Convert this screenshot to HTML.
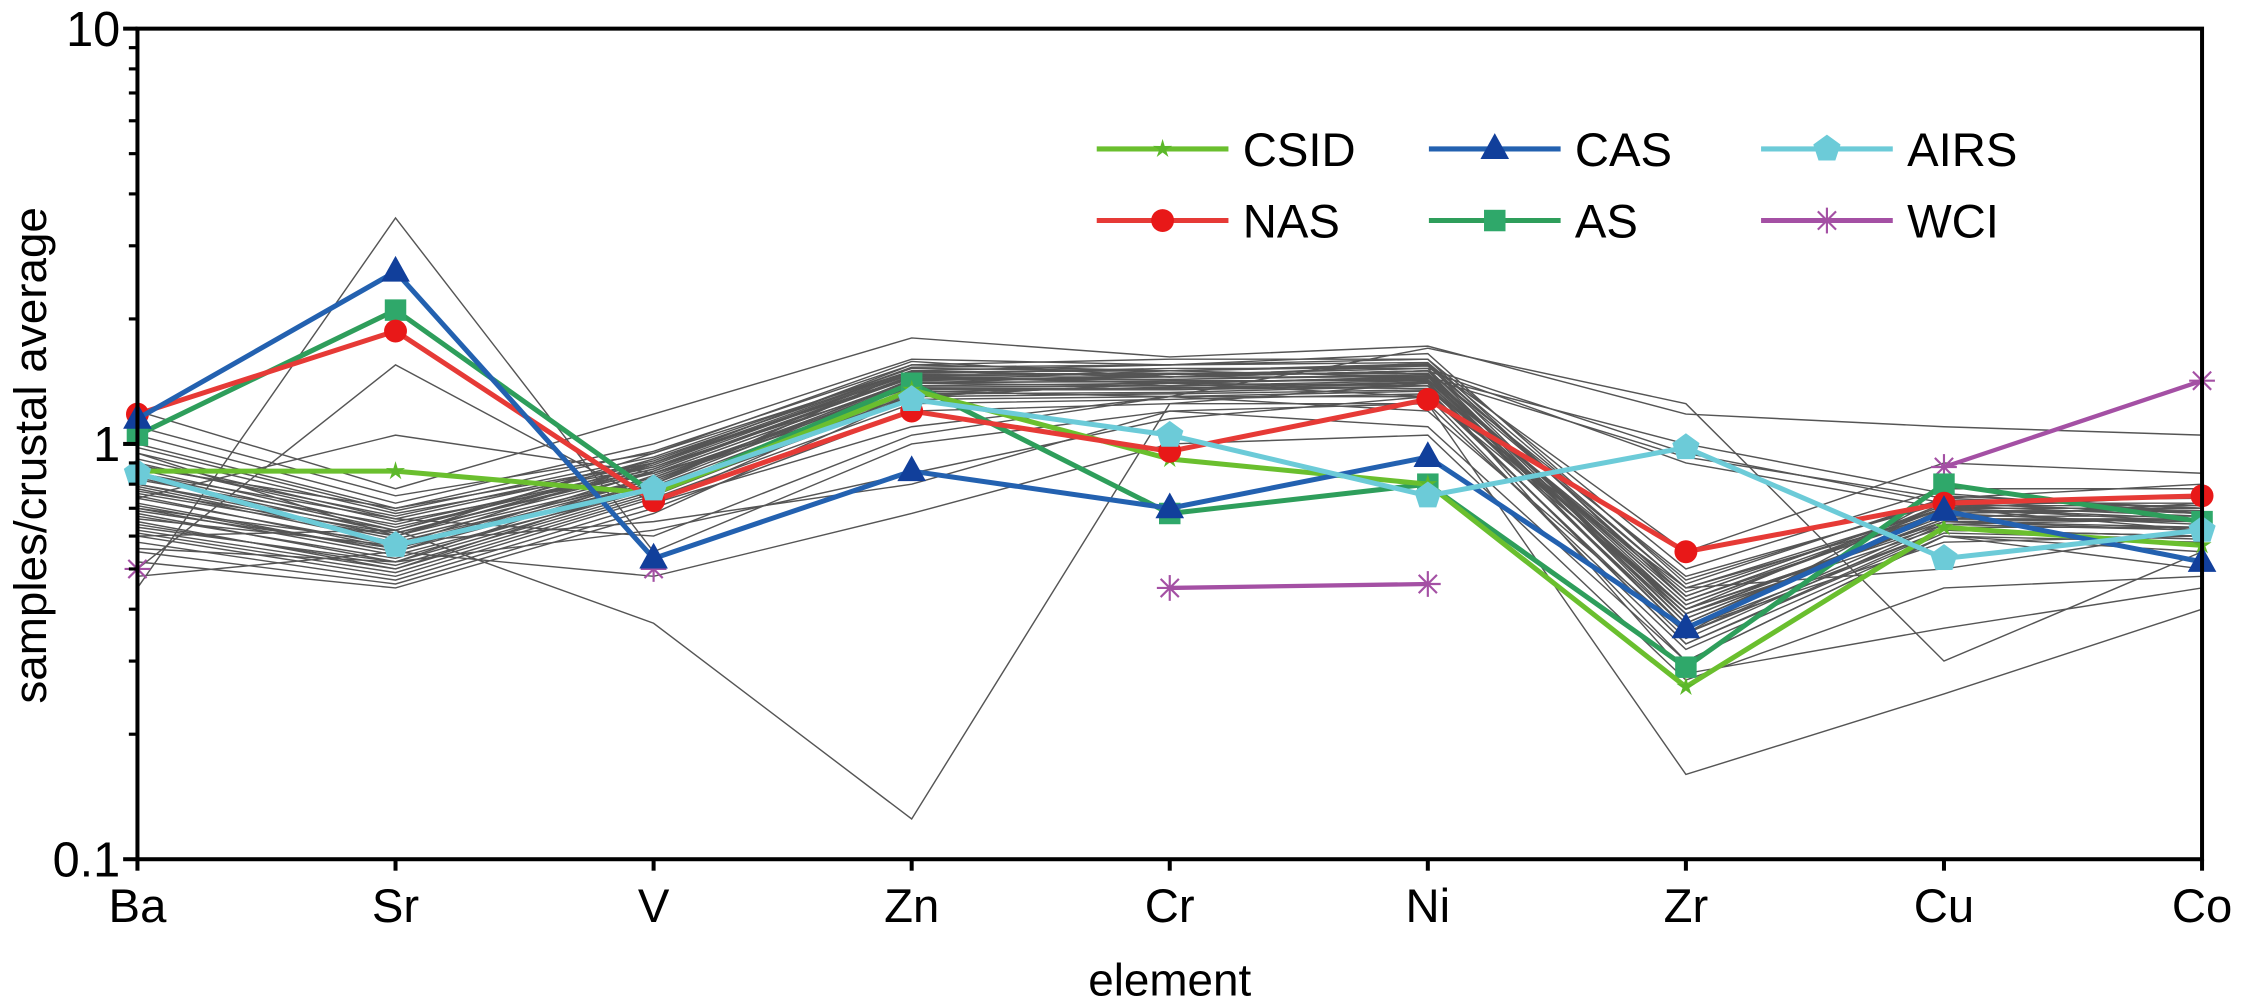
<!DOCTYPE html>
<html><head><meta charset="utf-8"><style>
html,body{margin:0;padding:0;background:#fff;}
svg{display:block;font-family:"Liberation Sans",Arial,sans-serif;}
</style></head><body>
<svg id="chart" width="2245" height="1001" viewBox="0 0 1568 699" preserveAspectRatio="none" xmlns="http://www.w3.org/2000/svg">
<g id="gray"></g>
<g id="series"></g>
<g id="axes"></g>
<g id="legend"></g>
</svg>
<script>
const categories = ["Ba","Sr","V","Zn","Cr","Ni","Zr","Cu","Co"];
const csid = [0.86,0.86,0.76,1.35,0.92,0.80,0.26,0.63,0.57];
const nas  = [1.18,1.87,0.73,1.20,0.96,1.28,0.55,0.72,0.75];
const cas  = [1.15,2.60,0.53,0.86,0.70,0.93,0.36,0.69,0.52];
const as   = [1.05,2.10,0.76,1.40,0.68,0.80,0.29,0.80,0.65];
const airs = [0.85,0.57,0.78,1.28,1.05,0.75,0.98,0.53,0.62];
const wci  = [0.50,null,0.50,null,0.45,0.46,null,0.88,1.42];
const yTicks = [10,1,0.1];
const yTickLabels = ["10","1","0.1"];
const samples = [
[1.1,0.75,0.95,1.5,1.45,1.5,0.45,0.7,0.75],
[1.0,0.7,0.9,1.45,1.4,1.45,0.42,0.68,0.7],
[0.95,0.68,0.88,1.4,1.38,1.4,0.4,0.72,0.68],
[0.9,0.65,0.85,1.42,1.5,1.55,0.38,0.66,0.72],
[0.85,0.62,0.92,1.5,1.45,1.5,0.36,0.7,0.65],
[0.8,0.6,0.9,1.55,1.5,1.45,0.35,0.75,0.7],
[0.78,0.58,0.82,1.35,1.35,1.38,0.4,0.65,0.66],
[0.75,0.56,0.8,1.4,1.42,1.42,0.44,0.7,0.62],
[0.72,0.55,0.86,1.45,1.45,1.5,0.48,0.72,0.68],
[0.7,0.54,0.78,1.3,1.32,1.35,0.33,0.62,0.6],
[0.68,0.52,0.84,1.38,1.4,1.45,0.37,0.68,0.64],
[0.65,0.5,0.8,1.5,1.55,1.6,0.42,0.7,0.7],
[0.62,0.5,0.76,1.28,1.3,1.3,0.3,0.6,0.58],
[0.6,0.48,0.74,1.25,1.28,1.32,0.34,0.64,0.62],
[0.58,0.47,0.72,1.35,1.35,1.4,0.38,0.66,0.66],
[0.55,0.46,0.7,1.2,1.25,1.25,0.32,0.6,0.55],
[0.52,0.45,0.68,1.3,1.4,1.38,0.36,0.58,0.6],
[0.88,0.7,0.96,1.55,1.6,1.6,0.5,0.78,0.78],
[1.05,0.72,1.0,1.6,1.55,1.65,0.46,0.74,0.8],
[0.82,0.64,0.88,1.48,1.52,1.52,0.95,0.72,0.72],
[0.76,0.6,0.85,1.42,1.45,1.45,1.0,0.76,0.68],
[0.66,0.57,0.9,1.5,1.45,1.5,0.9,0.7,0.7],
[0.45,3.5,0.55,1.0,1.2,1.1,0.3,0.6,0.5],
[0.5,1.55,0.72,1.1,1.3,1.2,0.35,0.62,0.6],
[0.74,1.05,0.85,1.3,1.4,1.3,0.4,0.65,0.62],
[0.6,0.62,0.37,0.125,1.25,1.4,0.28,0.36,0.45],
[0.7,0.58,0.65,0.8,1.2,1.25,0.16,0.25,0.4],
[0.85,0.66,0.6,1.05,1.3,1.7,1.25,0.3,0.55],
[1.2,0.78,1.18,1.8,1.62,1.72,1.18,1.1,1.05],
[0.48,0.55,0.48,0.68,1.0,1.05,0.27,0.45,0.48],
[0.95,0.6,0.95,1.58,1.45,1.55,0.55,0.9,0.85],
[0.56,0.52,0.62,0.85,1.15,1.3,0.45,0.5,0.62],
[0.92,0.66,0.9,1.47,1.48,1.48,0.41,0.69,0.69],
[0.87,0.63,0.87,1.44,1.43,1.47,0.39,0.67,0.67],
[0.83,0.61,0.86,1.46,1.47,1.52,0.37,0.69,0.69],
[0.79,0.59,0.83,1.41,1.41,1.43,0.43,0.71,0.67],
[0.74,0.57,0.83,1.37,1.38,1.42,0.39,0.66,0.65],
[0.71,0.55,0.81,1.43,1.43,1.46,0.41,0.7,0.66],
[0.67,0.53,0.79,1.36,1.36,1.41,0.35,0.65,0.63],
[0.64,0.51,0.77,1.33,1.37,1.36,0.39,0.63,0.63],
[0.61,0.49,0.75,1.32,1.33,1.38,0.36,0.62,0.6],
[0.98,0.69,0.93,1.52,1.5,1.56,0.43,0.71,0.71],
[0.89,0.67,0.91,1.53,1.55,1.57,0.47,0.73,0.74],
[0.8,0.62,0.89,1.49,1.5,1.54,0.45,0.68,0.7],
[0.69,0.56,0.82,1.4,1.47,1.48,0.4,0.64,0.66],
[0.77,0.61,0.87,1.46,1.4,1.44,0.93,0.74,0.7],
[0.63,0.52,0.78,1.34,1.3,1.34,0.33,0.61,0.59]
];
const NS="http://www.w3.org/2000/svg";
const L=96,R=1538,T=20,B=600;
function xPos(i){return L+(R-L)*i/(categories.length-1);}
function yPos(v){return T+(B-T)*(1-Math.log10(v))/2;}
function mk(tag,attrs,parent){const e=document.createElementNS(NS,tag);for(const k in attrs)e.setAttribute(k,attrs[k]);parent.appendChild(e);return e;}
const gG=document.getElementById('gray');
samples.forEach((s,si)=>{
  const p=mk('polyline',{points:s.map((v,i)=>xPos(i)+','+yPos(v)).join(' '),fill:'none',stroke:'#555','stroke-width':1},gG);
  
  
});
function marker(type,x,y,color,parent){
  let e;
  if(type==='circle')e=mk('circle',{cx:x,cy:y,r:8,fill:color},parent);
  else if(type==='square')e=mk('rect',{x:x-7.5,y:y-7.5,width:15,height:15,fill:color},parent);
  else if(type==='triangle')e=mk('polygon',{points:`${x},${y-11} ${x-10},${y+7} ${x+10},${y+7}`,fill:color},parent);
  else if(type==='pentagon'){const pts=[];for(let k=0;k<5;k++){const a=-Math.PI/2+k*2*Math.PI/5;pts.push((x+10*Math.cos(a))+','+(y+10*Math.sin(a)));}e=mk('polygon',{points:pts.join(' '),fill:color},parent);}
  else if(type==='star'){const pts=[];for(let k=0;k<10;k++){const r=k%2?2.5:7;const a=-Math.PI/2+k*Math.PI/5;pts.push((x+r*Math.cos(a))+','+(y+r*Math.sin(a)));}e=mk('polygon',{points:pts.join(' '),fill:color},parent);}
  else if(type==='asterisk'){e=mk('g',{stroke:color,'stroke-width':1.5},parent);for(let k=0;k<4;k++){const a=k*Math.PI/4;mk('line',{x1:x-9*Math.cos(a),y1:y-9*Math.sin(a),x2:x+9*Math.cos(a),y2:y+9*Math.sin(a)},e);}}
  return e;
}
const seriesDefs=[
 {name:'WCI',data:wci,line:'#a450a4',mark:'#a450a4',type:'asterisk'},
 {name:'AS',data:as,line:'#2e9e5b',mark:'#2fa86a',type:'square'},
 {name:'CSID',data:csid,line:'#6abf2e',mark:'#5cb82a',type:'star'},
 {name:'NAS',data:nas,line:'#e63a36',mark:'#e81818',type:'circle'},
 {name:'CAS',data:cas,line:'#2361b0',mark:'#113f9b',type:'triangle'},
 {name:'AIRS',data:airs,line:'#6ccbd8',mark:'#6ccbd8',type:'pentagon'}
];
const sG=document.getElementById('series');
seriesDefs.forEach(s=>{
  const g=mk('g',{},sG);
  
  
  let seg=[];
  const segs=[];
  s.data.forEach((v,i)=>{if(v==null){if(seg.length)segs.push(seg);seg=[];}else seg.push([xPos(i),yPos(v)]);});
  if(seg.length)segs.push(seg);
  segs.forEach(sg=>{if(sg.length>1)mk('polyline',{points:sg.map(p=>p.join(',')).join(' '),fill:'none',stroke:s.line,'stroke-width':s.name==='WCI'?3:3.5},g);});
  s.data.forEach((v,i)=>{if(v!=null){const m=marker(s.type,xPos(i),yPos(v),s.mark,g);
    
    }});
});
const aG=document.getElementById('axes');
const frame=mk('rect',{x:L,y:T,width:R-L,height:B-T,fill:'none',stroke:'#000','stroke-width':2.8},aG);


yTicks.forEach((v,i)=>{
  mk('line',{x1:L-10,x2:L,y1:yPos(v),y2:yPos(v),stroke:'#000','stroke-width':2.8},aG);
  const t=mk('text',{x:L-12,y:yPos(v)+12,'text-anchor':'end','font-size':34},aG);
  t.textContent=yTickLabels[i];
  
  
});
[1,0.1].forEach(d=>{for(let k=2;k<=9;k++){mk('line',{x1:L-6,x2:L,y1:yPos(d*k),y2:yPos(d*k),stroke:'#000','stroke-width':2.2},aG);}});
categories.forEach((c,i)=>{
  mk('line',{x1:xPos(i),x2:xPos(i),y1:B,y2:B+8,stroke:'#000','stroke-width':2.8},aG);
  const t=mk('text',{x:xPos(i),y:B+44,'text-anchor':'middle','font-size':33},aG);
  t.textContent=c;
  
  
});
const xt=mk('text',{x:(L+R)/2,y:695,'text-anchor':'middle','font-size':32},aG);
xt.textContent='element';


const yt=mk('text',{x:0,y:0,'text-anchor':'middle','font-size':32,transform:`translate(32,${(T+B)/2+8}) rotate(-90)`},aG);
yt.textContent='samples/crustal average';


const lG=document.getElementById('legend');
const legendItems=[
 {name:'CSID',col:0,row:0,s:seriesDefs[2]},
 {name:'NAS',col:0,row:1,s:seriesDefs[3]},
 {name:'CAS',col:1,row:0,s:seriesDefs[4]},
 {name:'AS',col:1,row:1,s:seriesDefs[1]},
 {name:'AIRS',col:2,row:0,s:seriesDefs[5]},
 {name:'WCI',col:2,row:1,s:seriesDefs[0]}
];
legendItems.forEach(it=>{
  const x0=766+it.col*232, y0=104+it.row*50;
  const g=mk('g',{},lG);
  
  
  mk('line',{x1:x0,x2:x0+92,y1:y0,y2:y0,stroke:it.s.line,'stroke-width':3.5},g);
  marker(it.s.type,x0+46,y0,it.s.mark,g);
  const t=mk('text',{x:x0+102,y:y0+12,'font-size':33},g);
  t.textContent=it.name;
});
</script>
</body></html>
